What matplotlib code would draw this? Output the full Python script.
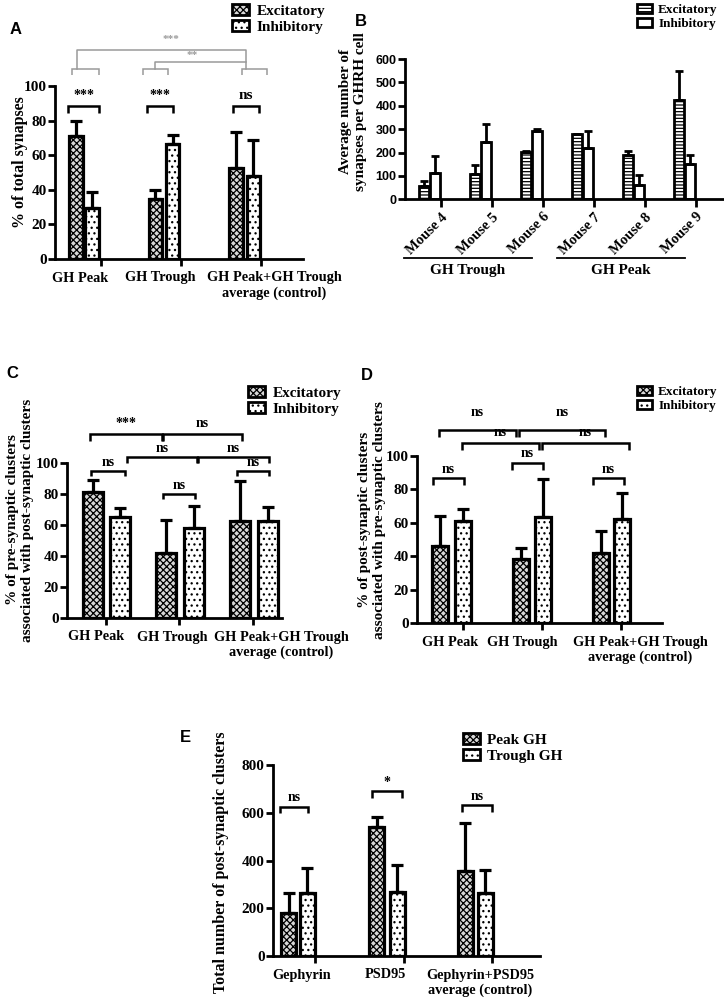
import numpy as np
import matplotlib
matplotlib.use("Agg")
import matplotlib.pyplot as plt
from matplotlib.patches import Patch

plt.rcParams['font.family'] = 'serif'
plt.rcParams['font.serif'] = ['Liberation Serif', 'DejaVu Serif']
plt.rcParams['font.weight'] = 'bold'
plt.rcParams['hatch.linewidth'] = 0.9
plt.rcParams['hatch.color'] = 'black'

# ---- data ----
groups_abcd = ['GH Peak', 'GH Trough', 'GH Peak+GH Trough\naverage (control)']

a_exc = [71, 34.4, 52.7]
a_exc_err = [8.8, 5.4, 20.8]
a_inh = [29.6, 66.2, 47.9]
a_inh_err = [9.2, 5.7, 20.8]

mice = ['Mouse 4', 'Mouse 5', 'Mouse 6', 'Mouse 7', 'Mouse 8', 'Mouse 9']
b_exc = [58, 108, 201, 278, 190, 425]
b_exc_err = [20, 39, 6, 3, 17, 124]
b_inh = [114, 246, 292, 221, 61, 150]
b_inh_err = [73, 76, 7, 73, 43, 40]

c_exc = [81.5, 42.1, 62.7]
c_exc_err = [7.5, 21.3, 25.6]
c_inh = [65.4, 58.2, 62.3]
c_inh_err = [5.4, 14.2, 9.5]

d_exc = [46.2, 38.2, 42.2]
d_exc_err = [17.9, 6.6, 13.0]
d_inh = [61.4, 63.7, 62.5]
d_inh_err = [6.7, 22.6, 15.2]

groups_e = ['Gephyrin', 'PSD95', 'Gephyrin+PSD95\naverage (control)']
e_peak = [179, 539, 357]
e_peak_err = [86, 42, 202]
e_trough = [262, 267, 265]
e_trough_err = [105, 114, 95]

W, H = 724, 1000
fig = plt.figure(figsize=(7.24, 10), dpi=100)

EXC = dict(facecolor='#d8d8d8', edgecolor='black', hatch='xxxxx')
INH = dict(facecolor='white', edgecolor='black', hatch='...')


def make_axes(left, right, y0, ytop):
    # pixel box -> figure fraction
    ax = fig.add_axes([left / W, 1 - y0 / H, (right - left) / W, (y0 - ytop) / H])
    ax.set_xlim(0, right - left)
    for s in ['top', 'right']:
        ax.spines[s].set_visible(False)
    for s in ['left', 'bottom']:
        ax.spines[s].set_linewidth(2)
    ax.tick_params(axis='y', width=2, length=5, labelsize=11, pad=1)
    return ax


def bars(ax, x, vals, errs, width, style, lw=2.3, cap=4):
    ax.bar(x, vals, width, linewidth=lw, zorder=2, **style)
    ax.errorbar(x, vals, yerr=[np.zeros(len(vals)), errs], fmt='none',
                ecolor='black', elinewidth=lw, capsize=cap, capthick=lw, zorder=3)


def xlabels(ax, label_pos, labels, tick_pos, fs=10.3):
    ax.set_xticks(label_pos)
    ax.set_xticklabels(labels, fontsize=fs)
    ax.tick_params(axis='x', which='major', length=0, pad=9)
    ax.set_xticks(tick_pos, minor=True)
    ax.tick_params(axis='x', which='minor', length=5, width=2)


def bracket(ax, x1, x2, y, leg, label, ty, color='black', lw=1.8, fs=10):
    ax.plot([x1, x1, x2, x2], [y - leg, y, y, y - leg], color=color, lw=lw,
            clip_on=False, solid_joinstyle='miter', solid_capstyle='butt')
    ax.text((x1 + x2) / 2, ty, label, ha='center', va='center', color=color,
            fontsize=fs, clip_on=False)


def legend(x, y, labels, styles, fs=11):
    handles = [Patch(linewidth=2, label=l, **s) for l, s in zip(labels, styles)]
    fig.legend(handles=handles, loc='upper left', bbox_to_anchor=(x / W, 1 - y / H),
               frameon=False, fontsize=fs, handlelength=1.1, handleheight=0.7,
               handletextpad=0.5, labelspacing=0.15, borderpad=0, borderaxespad=0)


def letter(x, y, s):
    fig.text(x / W, 1 - y / H, s, family='Liberation Sans', fontsize=12,
             fontweight='bold', ha='center', va='center')


def ylab(x, y, s, fs=11.5):
    fig.text(x / W, 1 - y / H, s, rotation=90, ha='center', va='center',
             multialignment='center', fontsize=fs)


# ---------------- A ----------------
ax = make_axes(55, 303, 259, 86)
ax.set_ylim(0, 100)
ax.set_yticks(range(0, 101, 20))
bars(ax, [20.8, 100.3, 180.8], a_exc, a_exc_err, 13.5, EXC)
bars(ax, [37.2, 117.5, 198.3], a_inh, a_inh_err, 13.5, INH)
xlabels(ax, [25, 105.5, 219], groups_abcd, [45.7, 125.7, 205.7])
for x1, x2, lab in [(13, 44, '***'), (92, 118, '***'), (178, 204, 'ns')]:
    bracket(ax, x1, x2, 88.5, 4, lab, 94.5, fs=11 if lab == 'ns' else 10)
g = '#9a9a9a'
for x1, x2 in [(17, 44), (88, 113), (187, 212)]:
    bracket(ax, x1, x2, 110, 3.5, '', 0, color=g, lw=1.1)
ax.plot([22, 22, 191, 191], [110, 121, 121, 110], color=g, lw=1.1, clip_on=False)
ax.plot([100, 100, 191], [110, 113.7, 113.7], color=g, lw=1.1, clip_on=False)
ax.text(116, 127, '***', color=g, fontsize=8, ha='center', va='center')
ax.text(137, 117.5, '**', color=g, fontsize=8, ha='center', va='center')
legend(232, 4, ['Excitatory', 'Inhibitory'], [EXC, INH])
ylab(20, 162, '% of total synapses')
letter(16, 30, 'A')

# ---------------- B ----------------
ax = make_axes(405, 724, 199.3, 59)
ax.set_ylim(0, 600)
ax.set_yticks(range(0, 601, 100))
ax.set_yticklabels([str(v) for v in range(0, 601, 100)], family='Liberation Sans',
                   fontsize=9)
bx = np.arange(len(mice)) * 51 + 19
BEXC = dict(facecolor='white', edgecolor='black', hatch='-----')
BINH = dict(facecolor='white', edgecolor='black')
bars(ax, bx, b_exc, b_exc_err, 9.5, BEXC, lw=2, cap=3)
bars(ax, bx + 11, b_inh, b_inh_err, 9.5, BINH, lw=2, cap=3)
ax.set_xticks(bx + 17)
ax.set_xticklabels(mice, rotation=45, ha='right', rotation_mode='anchor', fontsize=10.5)
ax.tick_params(axis='x', length=6, width=2, pad=2)
for x1, x2, lab in [(-1, 127, 'GH Trough'), (152, 280, 'GH Peak')]:
    ax.plot([x1, x2], [-252, -252], color='black', lw=1.3, clip_on=False)
    ax.text((x1 + x2) / 2, -305, lab, ha='center', va='center', fontsize=11)
legend(637, 4, ['Excitatory', 'Inhibitory'], [BEXC, BINH], fs=9.5)
ylab(353, 112, 'Average number of\nsynapses per GHRH cell', fs=11)
letter(361, 22, 'B')

# ---------------- C ----------------
ax = make_axes(67, 282, 618, 463)
ax.set_ylim(0, 100)
ax.set_yticks(range(0, 101, 20))
bars(ax, [26, 99, 173], c_exc, c_exc_err, 20, EXC)
bars(ax, [53, 127, 201], c_inh, c_inh_err, 20, INH)
xlabels(ax, [29, 105, 214], groups_abcd, [39, 112, 186])
bracket(ax, 24, 58, 95, 3.6, 'ns', 100)
bracket(ax, 96, 128, 80.2, 3.6, 'ns', 85.5)
bracket(ax, 170, 202, 95, 3.6, 'ns', 100)
bracket(ax, 60, 130, 103.7, 3.6, 'ns', 109.5)
bracket(ax, 131, 202, 103.7, 3.6, 'ns', 109.5)
bracket(ax, 23, 94.5, 118.5, 4, '***', 125.5)
bracket(ax, 96, 174.5, 118.5, 4, 'ns', 125.5)
legend(248, 386, ['Excitatory', 'Inhibitory'], [EXC, INH])
ylab(20, 520, '% of pre-synaptic clusters\nassociated with post-synaptic clusters', fs=11)
letter(12, 373, 'C')

# ---------------- D ----------------
ax = make_axes(417, 662, 623.3, 456)
ax.set_ylim(0, 100)
ax.set_yticks(range(0, 101, 20))
bars(ax, [23.5, 103.8, 183.5], d_exc, d_exc_err, 16, EXC)
bars(ax, [45.8, 125.5, 204.7], d_inh, d_inh_err, 16, INH)
xlabels(ax, [33, 105, 223], groups_abcd, [46.3, 124.7, 203.7])
bracket(ax, 16.3, 47, 86.7, 4, 'ns', 92)
bracket(ax, 94.7, 125.7, 95.6, 4, 'ns', 101.6)
bracket(ax, 176.3, 207, 86.7, 4, 'ns', 92)
bracket(ax, 45, 121.7, 108, 4.4, 'ns', 113.8)
bracket(ax, 125, 211.7, 108, 4.4, 'ns', 113.8)
bracket(ax, 21.7, 99, 115.5, 4, 'ns', 126)
bracket(ax, 101.7, 188.3, 115.5, 4, 'ns', 126)
legend(637, 386, ['Excitatory', 'Inhibitory'], [EXC, INH], fs=9.5)
ylab(372, 520, '% of post-synaptic clusters\nassociated with pre-synaptic clusters', fs=11)
letter(367, 376, 'D')

# ---------------- E ----------------
ax = make_axes(273, 540, 956, 765)
ax.set_ylim(0, 800)
ax.set_yticks(range(0, 801, 200))
bars(ax, [15.7, 103.7, 192], e_peak, e_peak_err, 15, EXC)
bars(ax, [34, 124.3, 212], e_trough, e_trough_err, 15, INH)
xlabels(ax, [28.7, 112.7, 207], groups_e, [42, 131, 219], fs=10.3)
bracket(ax, 7, 35, 626, 28, 'ns', 662)
bracket(ax, 99, 128.7, 691, 30, '*', 728)
bracket(ax, 188.7, 218.7, 633, 28, 'ns', 669)
legend(463, 733, ['Peak GH', 'Trough GH'], [EXC, INH])
ylab(221, 862, 'Total number of post-synaptic clusters')
letter(185, 737, 'E')

fig.savefig('out.png', dpi=100)
